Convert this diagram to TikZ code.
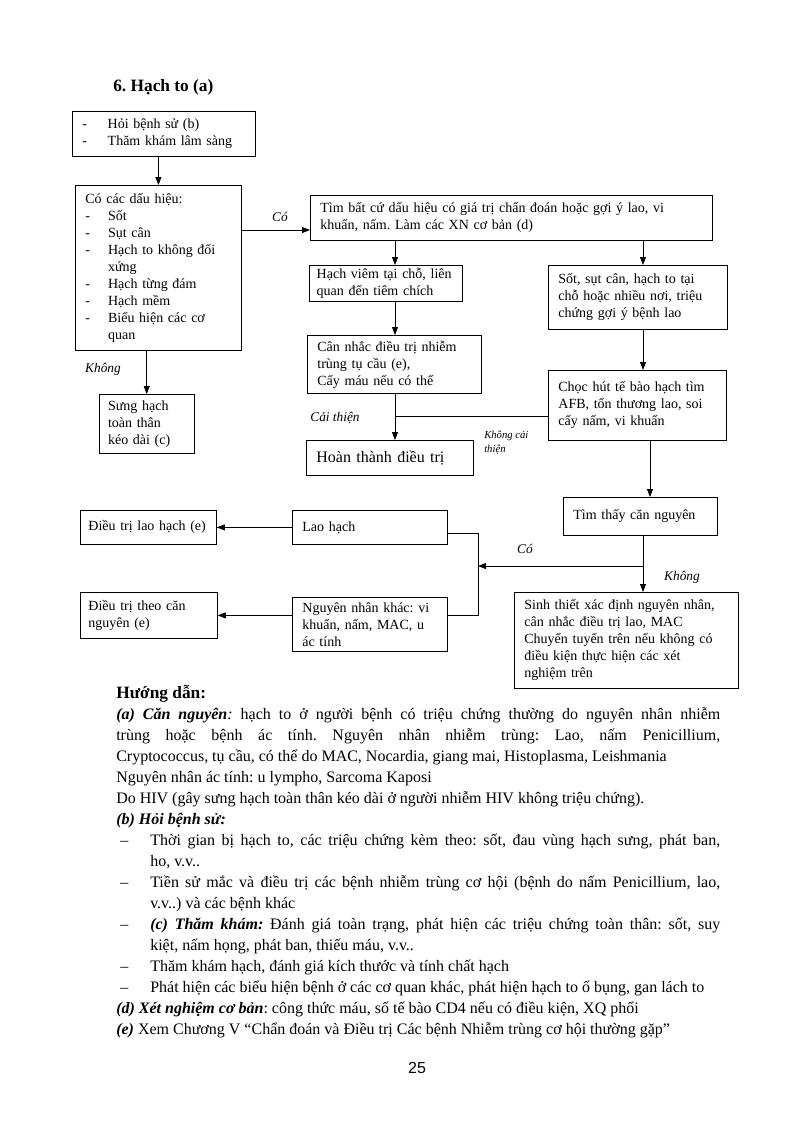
\documentclass[tikz,border=0pt]{standalone}
\usepackage{fontspec}
\setmainfont{Liberation Serif}
\newfontfamily\pagenofont{Liberation Sans}
\usetikzlibrary{arrows.meta,positioning,calc}
\tikzset{
  box/.style={draw, line width=0.6pt, anchor=north west, align=left,
              inner xsep=7.5pt, inner ysep=2pt,
              font=\fontsize{10.5}{12.75}\selectfont},
  lbl/.style={font=\fontsize{10}{12}\selectfont\itshape, inner sep=0pt},
  smalllbl/.style={lbl, font=\fontsize{8}{10}\selectfont\itshape, align=left},
  arrow/.style={-{Triangle[length=6pt,width=4.5pt]}, line width=0.6pt},
  link/.style={line width=0.6pt}
}
\newcommand{\dashitem}[2][17pt]{\makebox[#1][l]{-}#2}
\newcommand{\dashcont}[2][17pt]{\hspace*{#1}#2}
\newenvironment{guidelist}{\begin{list}{--}{%
  \setlength{\leftmargin}{25.5pt}\setlength{\labelwidth}{22.5pt}%
  \setlength{\labelsep}{3pt}\setlength{\topsep}{0pt}%
  \setlength{\itemsep}{0pt}\setlength{\parsep}{0pt}\setlength{\partopsep}{0pt}%
  \def\makelabel##1{\hspace*{3pt}##1\hfil}}}{\end{list}}
\frenchspacing

\begin{document}
\begin{tikzpicture}[x=0.75pt, y=-0.75pt]
  \fill[white] (0,0) rectangle (794,1124);
  \useasboundingbox (0,0) rectangle (794,1124);

  \node[font=\fontsize{13}{15}\selectfont\bfseries, anchor=base west, inner sep=0pt]
    (title) at (113,92) {6. Hạch to (a)};

  % flow chart boxes
  \node[box, text width=122pt, minimum height=33.75pt] (hoi) at (72,111)
    {\dashitem[19pt]{Hỏi bệnh sử (b)}\\\dashitem[19pt]{Thăm khám lâm sàng}};
  \node[box, text width=109.5pt, minimum height=123.75pt] (dauhieu) at (75,185)
    {Có các dấu hiệu:\\\dashitem{Sốt}\\\dashitem{Sụt cân}\\\dashitem{Hạch to không đối}\\
     \dashcont{xứng}\\\dashitem{Hạch từng đám}\\\dashitem{Hạch mềm}\\
     \dashitem{Biểu hiện các cơ}\\\dashcont{quan}};
  \node[box, inner xsep=6.5pt, text width=58pt, minimum height=44.25pt] (sung) at (99,394)
    {Sưng hạch\\toàn thân\\kéo dài (c)};
  \node[box, text width=286.5pt, minimum height=33.75pt] (tim) at (310,195)
    {Tìm bất cứ dấu hiệu có giá trị chẩn đoán hoặc gợi ý lao, vi\\khuẩn, nấm. Làm các XN cơ bản (d)};
  \node[box, inner xsep=5.5pt, text width=103.75pt, minimum height=26.25pt] (viem) at (309,265)
    {Hạch viêm tại chỗ, liên\\quan đến tiêm chích};
  \node[box, text width=119.25pt, minimum height=48pt] (sot) at (548,265)
    {Sốt, sụt cân, hạch to tại\\chỗ hoặc nhiều nơi, triệu\\chứng gợi ý bệnh lao};
  \node[box, text width=115.5pt, minimum height=43.5pt] (cannhac) at (307,335)
    {Cân nhắc điều trị nhiễm\\trùng tụ cầu (e),\\Cấy máu nếu có thể};
  \node[box, text width=118.5pt, minimum height=52.5pt] (choc) at (548,370)
    {Chọc hút tế bào hạch tìm\\AFB, tổn thương lao, soi\\cấy nấm, vi khuẩn};
  \node[box, text width=110.25pt, minimum height=26.25pt,
        font=\fontsize{12}{14}\selectfont] (hoan) at (306,440) {Hoàn thành điều trị};
  \node[box, text width=100.5pt, minimum height=28.5pt] (timthay) at (563,497)
    {Tìm thấy căn nguyên};
  \node[box, text width=101.25pt, minimum height=25.5pt] (laohach) at (292,510) {Lao hạch};
  \node[box, inner xsep=6pt, text width=90pt, minimum height=25.5pt] (dtlao) at (80,510)
    {Điều trị lao hạch (e)};
  \node[box, text width=101.25pt, minimum height=40.5pt] (nnkhac) at (292,597)
    {Nguyên nhân khác: vi\\khuẩn, nấm, MAC, u\\ác tính};
  \node[box, inner xsep=6pt, text width=90.75pt, minimum height=34.5pt] (dtcn) at (80,592)
    {Điều trị theo căn\\nguyên (e)};
  \node[box, text width=153pt, minimum height=72pt] (sinh) at (514,592)
    {Sinh thiết xác định nguyên nhân,\\cân nhắc điều trị lao, MAC\\Chuyển tuyến trên nếu không có\\điều kiện thực hiện các xét\\nghiệm trên};

  % connector guides
  \coordinate (colL) at (395,0);
  \coordinate (colR) at (643,0);
  \coordinate (colRR) at (650,0);
  \coordinate (coY) at (0,230);
  \coordinate (jn) at (395,416);
  \coordinate (brTop) at (478,533);
  \coordinate (brBot) at (478,615);
  \coordinate (coJ) at (478,566);

  \draw[arrow] (dauhieu.north |- hoi.south) -- (dauhieu.north);
  \draw[arrow] (dauhieu.east |- coY) -- (tim.west |- coY);
  \draw[arrow] (sung.north |- dauhieu.south) -- (sung.north);
  \foreach \u/\v/\c in {tim/viem/colL, viem/cannhac/colL, cannhac/hoan/colL,
                        tim/sot/colR, sot/choc/colR, choc/timthay/colRR, timthay/sinh/colR}
    \draw[arrow] (\c |- \u.south) -- (\c |- \v.north);
  \draw[link] (choc.west |- jn) -- (jn);
  \draw[arrow] (colR |- coJ) -- (coJ);
  \draw[link] (laohach.east |- brTop) -- (brTop) -- (brBot) -- (nnkhac.east |- brBot);
  \draw[arrow] (laohach) -- (dtlao);
  \draw[arrow] (nnkhac.west |- dtcn.east) -- (dtcn.east);

  % branch labels
  \node[lbl] (lblCo) at (280,217) {Có};
  \node[lbl] (lblKhong) at (103,369) {Không};
  \node[lbl] (lblCaiThien) at (335,418) {Cải thiện};
  \node[smalllbl, anchor=north west] (lblKhongCT) at (484,431) {Không cải\\thiện};
  \node[lbl] (lblCoB) at (525,549) {Có};
  \node[lbl] (lblKhongB) at (682,577) {Không};

  % guidance notes
  \node[anchor=base west, inner sep=0pt, text width=453pt, align=justify,
        font=\fontsize{12}{15.75}\selectfont] (guide) at (116,698) {%
    {\fontsize{13}{15.75}\selectfont\bfseries Hướng dẫn:}\par
    \textbf{\textit{(a) Căn nguyên}}\textit{:} hạch to ở người bệnh có triệu chứng thường do nguyên nhân nhiễm\linebreak
    trùng hoặc bệnh ác tính. Nguyên nhân nhiễm trùng: Lao, nấm Penicillium,\linebreak
    Cryptococcus, tụ cầu, có thể do MAC, Nocardia, giang mai, Histoplasma, Leishmania\par
    Nguyên nhân ác tính: u lympho, Sarcoma Kaposi\par
    Do HIV (gây sưng hạch toàn thân kéo dài ở người nhiễm HIV không triệu chứng).\par
    \textbf{\textit{(b) Hỏi bệnh sử:}}\par
    \begin{guidelist}
      \item Thời gian bị hạch to, các triệu chứng kèm theo: sốt, đau vùng hạch sưng, phát ban,\linebreak ho, v.v..
      \item Tiền sử mắc và điều trị các bệnh nhiễm trùng cơ hội (bệnh do nấm Penicillium, lao,\linebreak v.v..) và các bệnh khác
      \item \textbf{\textit{(c) Thăm khám:}} Đánh giá toàn trạng, phát hiện các triệu chứng toàn thân: sốt, suy\linebreak kiệt, nấm họng, phát ban, thiếu máu, v.v..
      \item Thăm khám hạch, đánh giá kích thước và tính chất hạch
      \item Phát hiện các biểu hiện bệnh ở các cơ quan khác, phát hiện hạch to ổ bụng, gan lách to
    \end{guidelist}
    \textbf{\textit{(d) Xét nghiệm cơ bản}}: công thức máu, số tế bào CD4 nếu có điều kiện, XQ phổi\par
    \textbf{\textit{(e)}} Xem Chương V “Chẩn đoán và Điều trị Các bệnh Nhiễm trùng cơ hội thường gặp”};

  \node[font=\pagenofont\fontsize{12}{14}\selectfont] (pageno) at (417,1068) {25};
\end{tikzpicture}
\end{document}
